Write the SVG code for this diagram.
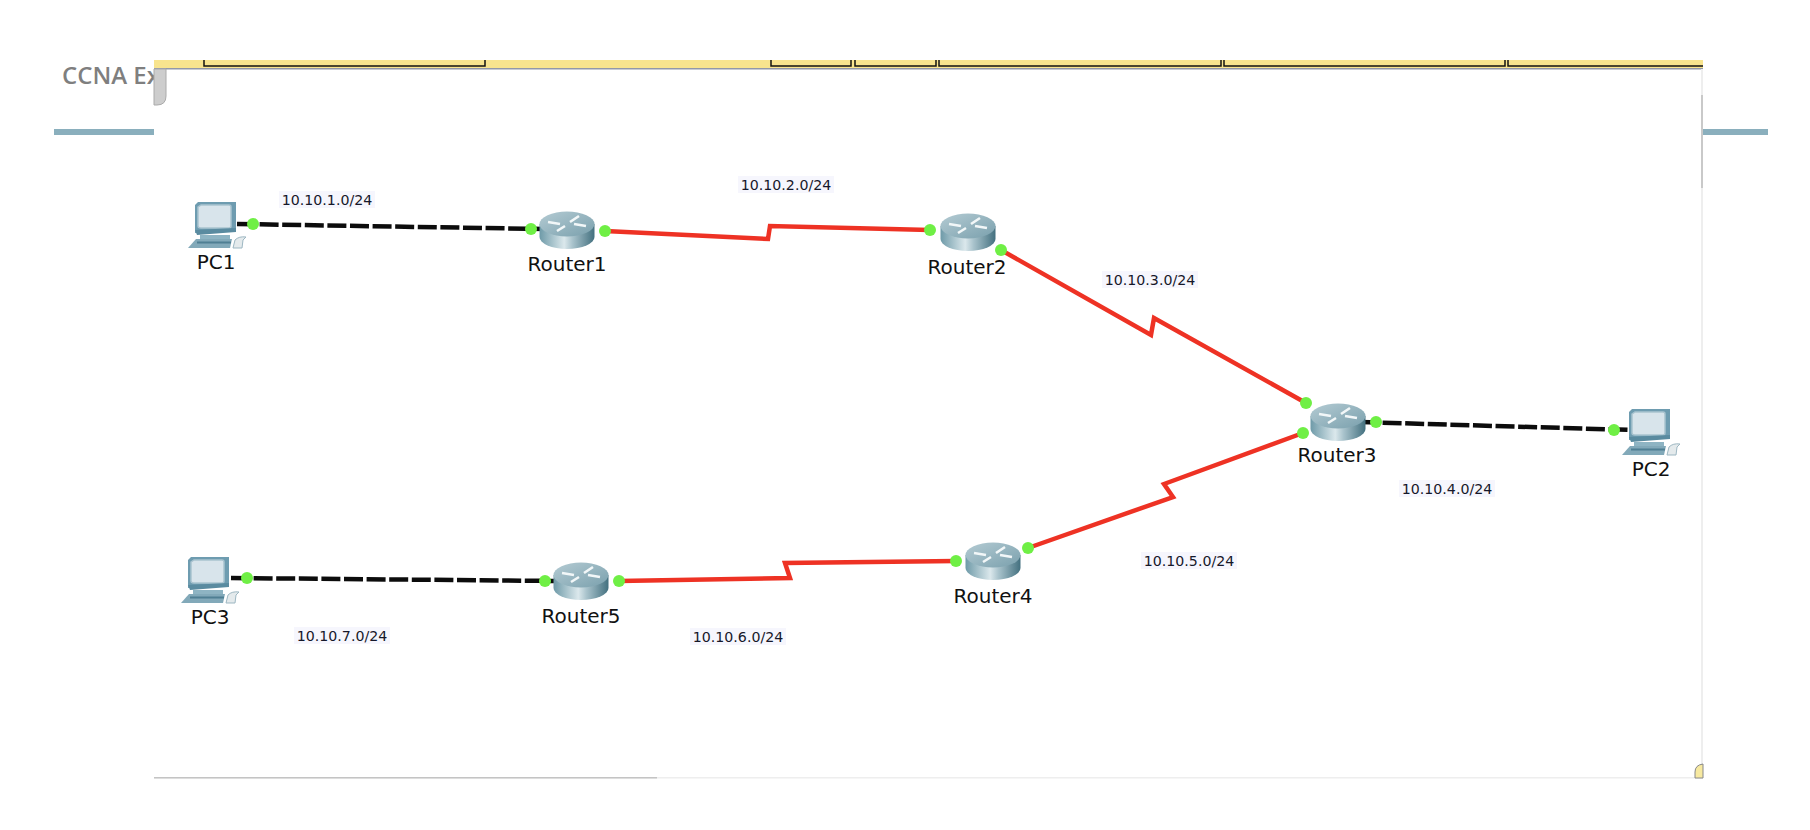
<svg xmlns="http://www.w3.org/2000/svg" xmlns:xlink="http://www.w3.org/1999/xlink" width="1810" height="830" viewBox="0 0 1810 830">
<style>
.net{font-family:"DejaVu Sans",Verdana,sans-serif;font-size:14.2px;fill:#16182a;text-anchor:middle}
.nm{font-family:"DejaVu Sans",Verdana,sans-serif;font-size:20px;fill:#111;text-anchor:middle}
.lb{fill:#f6f6fd}
.eth{fill:none;stroke:#0c0c0c;stroke-width:4.5;stroke-dasharray:19 3.600}
.ser{fill:none;stroke:#ee3224;stroke-width:4.500;stroke-linejoin:miter}
.dot{fill:#6fef45}
.tab{fill:#f8e48e;stroke:#111;stroke-width:1.5}
</style>
<defs>
<linearGradient id="rb" x1="0" x2="1" y1="0" y2="0">
<stop offset="0" stop-color="#6e9aa8"/><stop offset=".45" stop-color="#dbe8ec"/><stop offset=".6" stop-color="#a9c3cc"/><stop offset="1" stop-color="#43707f"/>
</linearGradient>
<linearGradient id="rt" x1="0" x2="1" y1="0" y2="1">
<stop offset="0" stop-color="#b4cbd3"/><stop offset="1" stop-color="#7aa0ad"/>
</linearGradient>
<g id="router">
<path d="M-27.500-6V7A27.500 12 0 0 0 27.500 7V-6Z" fill="url(#rb)"/>
<ellipse cy="-6" rx="27.500" ry="12.500" fill="url(#rt)"/>
<path d="M-19-8L-7-6M19-4L7-6M-10 1L-2-4M12-14L3-8" stroke="#f2f7f8" stroke-width="2.600" fill="none"/>
</g>
<g id="pc">
<path d="M-21-20L-18-23 20-23V6L-21 8Z" fill="#6e9cb0"/>
<path d="M-18-18L-15-20H13Q15-20 15-18V1Q15 3 13 3H-15Q-18 3-18 1Z" fill="#d8e4eb" stroke="#a9c3cf" stroke-width="1.500"/>
<path d="M-21 5L20 3V7L-19 10Z" fill="#5a8ba0"/>
<path d="M-16 10H14V14H-16Z" fill="#8eb4c3"/>
<path d="M-28 23L-20 14H16L14 23Z" fill="#82a9b9"/>
<path d="M-19 16.500H15V18.500H-19Z" fill="#4f7f93"/>
<path d="M17 23L19 15Q23 11 30 12L27 15 26 23Z" fill="#e4eaec" stroke="#9db7c2"/>
</g>
</defs>
<rect width="1810" height="830" fill="#fff"/>
<text x="62" y="84" font-family="'Open Sans','Noto Sans',sans-serif" font-size="24" font-weight="600" fill="#7f7f7f">CCNA Ex</text>
<rect x="54" y="129" width="1714" height="6" fill="#8aafbd"/>
<rect x="154" y="68" width="1549" height="710" fill="#fff"/>
<g id="chrome">
<rect x="154" y="60" width="1549" height="8" fill="#f8e48e"/>
<path class="tab" d="M204 60V66H485V60M771 60V66H851V60M855 60V66H936V60M939 60V66H1221V60M1224 60V66H1505V60M1508 60V66H1703"/>
<rect x="154" y="68" width="1549" height="1.500" fill="#9298a8"/>
<path d="M154 69H166V96Q166 105 157 105H154Z" fill="#cdcdcd" stroke="#aaa"/>
<rect x="1701" y="69" width="2" height="709" fill="#eee"/>
<rect x="1701" y="95" width="2" height="93" fill="#c9c9c9"/>
<rect x="154" y="777" width="1549" height="1.500" fill="#eee"/>
<rect x="154" y="777" width="503" height="1.500" fill="#c4c4c4"/>
<path d="M1695 778V772Q1695 765 1703 764V778Z" fill="#f7e9a0" stroke="#888"/>
</g>
<g id="connectors">
<path class="eth" d="M237 224L545 229"/>
<path class="ser" d="M605 231L768 239 770 226 930 230"/>
<path class="ser" d="M1001 250L1151 335 1154 318 1306 403"/>
<path class="eth" d="M1360 422L1632 430"/>
<path class="ser" d="M1303 433L1164 484 1173 497 1028 548"/>
<path class="ser" d="M956 561L785 563 790 578 619 581"/>
<path class="eth" d="M231 578L560 581"/>
</g>
<g id="PC1"><use xlink:href="#pc" href="#pc" x="216" y="225"/><text class="nm" x="216" y="269">PC1</text></g>
<g id="PC2"><use xlink:href="#pc" href="#pc" x="1650" y="432"/><text class="nm" x="1651" y="476">PC2</text></g>
<g id="PC3"><use xlink:href="#pc" href="#pc" x="209" y="580"/><text class="nm" x="210" y="624">PC3</text></g>
<g id="Router1"><use xlink:href="#router" href="#router" x="567" y="230"/><text class="nm" x="567" y="271">Router1</text></g>
<g id="Router2"><use xlink:href="#router" href="#router" x="968" y="232"/><text class="nm" x="967" y="274">Router2</text></g>
<g id="Router3"><use xlink:href="#router" href="#router" x="1338" y="422"/><text class="nm" x="1337" y="462">Router3</text></g>
<g id="Router4"><use xlink:href="#router" href="#router" x="993" y="561"/><text class="nm" x="993" y="603">Router4</text></g>
<g id="Router5"><use xlink:href="#router" href="#router" x="581" y="581"/><text class="nm" x="581" y="623">Router5</text></g>
<g id="ports" class="dot">
<circle cx="253" cy="224" r="6"/><circle cx="531" cy="229" r="6"/><circle cx="605" cy="231" r="6"/><circle cx="930" cy="230" r="6"/>
<circle cx="1001" cy="250" r="6"/><circle cx="1306" cy="403" r="6"/><circle cx="1303" cy="433" r="6"/><circle cx="1376" cy="422" r="6"/>
<circle cx="1614" cy="430" r="6"/><circle cx="1028" cy="548" r="6"/><circle cx="956" cy="561" r="6"/><circle cx="619" cy="581" r="6"/>
<circle cx="545" cy="581" r="6"/><circle cx="247" cy="578" r="6"/>
</g>
<g id="networks">
<rect class="lb" x="279" y="191" width="96" height="17"/><text class="net" x="327" y="205">10.10.1.0/24</text>
<rect class="lb" x="738" y="176" width="96" height="17"/><text class="net" x="786" y="190">10.10.2.0/24</text>
<rect class="lb" x="1102" y="271" width="96" height="17"/><text class="net" x="1150" y="285">10.10.3.0/24</text>
<rect class="lb" x="1399" y="480" width="96" height="17"/><text class="net" x="1447" y="494">10.10.4.0/24</text>
<rect class="lb" x="1141" y="552" width="96" height="17"/><text class="net" x="1189" y="566">10.10.5.0/24</text>
<rect class="lb" x="690" y="628" width="96" height="17"/><text class="net" x="738" y="642">10.10.6.0/24</text>
<rect class="lb" x="294" y="627" width="96" height="17"/><text class="net" x="342" y="641">10.10.7.0/24</text>
</g>
</svg>
